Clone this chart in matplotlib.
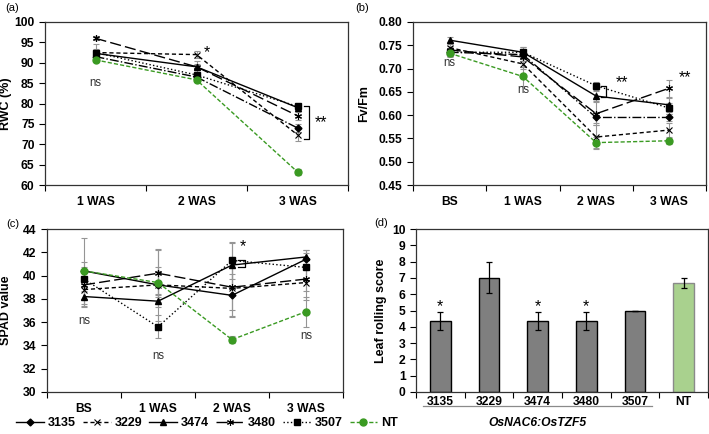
import matplotlib.pyplot as plt

plt.rcParams['font.family'] = ['Liberation Sans', 'DejaVu Sans']

# ---- data ----
lines = ['3135', '3229', '3474', '3480', '3507', 'NT']

rwc_cats = ['1 WAS', '2 WAS', '3 WAS']
rwc = {
    '3135': [91.5, 86.5, 74.0],
    '3229': [92.5, 92.0, 72.3],
    '3474': [92.3, 89.0, 79.0],
    '3480': [96.0, 89.0, 77.0],
    '3507': [92.5, 87.0, 79.3],
    'NT':   [90.7, 85.8, 63.2],
}
rwc_err = {
    '3135': [0.8, 0.8, 1.0],
    '3229': [0.8, 0.8, 1.5],
    '3474': [0.8, 1.5, 0.8],
    '3480': [0.5, 0.8, 1.0],
    '3507': [2.0, 1.5, 0.6],
    'NT':   [0.6, 0.6, 0.8],
}

fv_cats = ['BS', '1 WAS', '2 WAS', '3 WAS']
fv = {
    '3135': [0.735, 0.730, 0.595, 0.595],
    '3229': [0.745, 0.710, 0.553, 0.568],
    '3474': [0.761, 0.735, 0.641, 0.622],
    '3480': [0.740, 0.725, 0.603, 0.658],
    '3507': [0.735, 0.735, 0.663, 0.615],
    'NT':   [0.733, 0.683, 0.541, 0.545],
}
fv_err = {
    '3135': [0.008, 0.010, 0.012, 0.008],
    '3229': [0.008, 0.010, 0.025, 0.015],
    '3474': [0.006, 0.012, 0.010, 0.015],
    '3480': [0.008, 0.008, 0.025, 0.018],
    '3507': [0.010, 0.012, 0.008, 0.012],
    'NT':   [0.006, 0.020, 0.012, 0.006],
}

spad_cats = ['BS', '1 WAS', '2 WAS', '3 WAS']
spad = {
    '3135': [40.4, 39.2, 38.3, 41.4],
    '3229': [38.8, 39.2, 38.9, 39.4],
    '3474': [38.2, 37.8, 40.9, 41.6],
    '3480': [39.2, 40.2, 39.0, 39.7],
    '3507': [39.7, 35.6, 41.3, 40.7],
    'NT':   [40.4, 39.4, 34.5, 36.9],
}
spad_err = {
    '3135': [2.8, 3.1, 1.8, 0.8],
    '3229': [1.5, 1.5, 2.5, 1.5],
    '3474': [0.8, 0.5, 1.9, 0.6],
    '3480': [1.2, 2.0, 2.0, 1.0],
    '3507': [1.0, 1.0, 1.6, 1.2],
    'NT':   [0.8, 1.0, 0.3, 1.3],
}

roll_cats = ['3135', '3229', '3474', '3480', '3507', 'NT']
roll = [4.33, 7.0, 4.33, 4.33, 5.0, 6.67]
roll_err = [0.55, 0.95, 0.55, 0.55, 0.0, 0.3]

# ---- styles ----
green = '#3a9a22'
style = {
    '3135': dict(color='k', ls='-.', marker='D', ms=3.5, mew=1.0),
    '3229': dict(color='k', ls=(0, (3, 2)), marker='x', ms=4.5, mew=0.8),
    '3474': dict(color='k', ls='-', marker='^', ms=5, mew=1.0),
    '3480': dict(color='k', ls=(0, (8, 3)), marker=(6, 2, 0), ms=5, mew=0.8),
    '3507': dict(color='k', ls=':', marker='s', ms=5, mew=1.0),
    'NT':   dict(color=green, ls=(0, (3, 1.5)), marker='o', ms=5, mew=1.0),
}

W, H = 709, 434
fig = plt.figure(figsize=(W / 100, H / 100), dpi=100)
TICK = 8.7


def add_ax(x0, y0, x1, y1):
    return fig.add_axes([x0 / W, 1 - y1 / H, (x1 - x0) / W, (y1 - y0) / H])


def frame(ax, cats, pad=8):
    n = len(cats)
    ax.set_xlim(0, n)
    ax.set_xticks(range(n + 1))
    ax.set_xticklabels([])
    ax.set_xticks([i + 0.5 for i in range(n)], minor=True)
    ax.set_xticklabels(cats, minor=True, fontsize=TICK, fontweight='bold')
    ax.tick_params(axis='x', which='minor', length=0, pad=pad)
    ax.tick_params(axis='x', which='major', length=4, direction='out')
    ax.tick_params(axis='y', length=4, direction='out', labelsize=TICK)
    for lab in ax.get_yticklabels():
        lab.set_fontweight('bold')
    for s in ax.spines.values():
        s.set_linewidth(0.9)
        s.set_color('#333333')


def draw_lines(ax, data, err, cats, solid3135=False):
    xs = [i + 0.5 for i in range(len(cats))]
    handles = []
    for name in lines:
        st = dict(style[name])
        if solid3135 and name == '3135':
            st['ls'] = '-'
        ax.errorbar(xs, data[name], yerr=err[name], fmt='none', ecolor='#959595',
                    elinewidth=0.8, capsize=2.5, capthick=0.8, zorder=2)
        h, = ax.plot(xs, data[name], color=st['color'], ls=st['ls'], lw=1.0,
                     marker=st['marker'], ms=st['ms'], mfc=st['color'],
                     mec=st['color'], mew=st['mew'], zorder=3)
        handles.append(h)
    return handles


def bracket(ax, x, y0, y1, w):
    ax.plot([x, x + w, x + w, x], [y0, y0, y1, y1], color='k', lw=0.9)


def ylab(ax, text, xfrac):
    ax.set_ylabel(text, fontsize=9, fontweight='bold')
    ax.yaxis.set_label_coords(xfrac, 0.5)


# (a) RWC
ax = add_ax(45, 22, 348, 185)
draw_lines(ax, rwc, rwc_err, rwc_cats)
ax.set_ylim(60, 100)
ax.set_yticks(range(60, 101, 5))
frame(ax, rwc_cats)
ylab(ax, 'RWC (%)', -0.108)
ax.text(0.5, 85, 'ns', ha='center', va='center', fontsize=8.3, color='#333333')
ax.text(1.6, 92.4, '*', ha='center', va='center', fontsize=11.5)
bracket(ax, 2.56, 79.3, 71.3, 0.05)
ax.text(2.73, 75.2, '**', ha='center', va='center', fontsize=11.5)
fig.text(5 / W, 1 - 8 / H, '(a)', fontsize=8, va='center')

# (b) Fv/Fm
ax = add_ax(413, 22, 706, 185)
draw_lines(ax, fv, fv_err, fv_cats)
ax.set_ylim(0.45, 0.80)
ax.set_yticks([0.45, 0.50, 0.55, 0.60, 0.65, 0.70, 0.75, 0.80])
ax.set_yticklabels(['%.2f' % v for v in ax.get_yticks()])
frame(ax, fv_cats)
ylab(ax, 'Fv/Fm', -0.147)
ax.text(0.5, 0.712, 'ns', ha='center', va='center', fontsize=8.3, color='#333333')
ax.text(1.5, 0.654, 'ns', ha='center', va='center', fontsize=8.3, color='#333333')
bracket(ax, 2.57, 0.663, 0.638, 0.06)
ax.text(2.85, 0.669, '**', ha='center', va='center', fontsize=11.5)
ax.text(3.72, 0.680, '**', ha='center', va='center', fontsize=11.5)
fig.text(355 / W, 1 - 8 / H, '(b)', fontsize=8, va='center')

# (c) SPAD
ax = add_ax(47, 229, 343, 392)
handles = draw_lines(ax, spad, spad_err, spad_cats, solid3135=True)
ax.set_ylim(30, 44)
ax.set_yticks(range(30, 45, 2))
frame(ax, spad_cats)
ylab(ax, 'SPAD value', -0.118)
ax.text(0.5, 36.1, 'ns', ha='center', va='center', fontsize=8.3, color='#333333')
ax.text(1.5, 33.1, 'ns', ha='center', va='center', fontsize=8.3, color='#333333')
ax.text(3.5, 34.8, 'ns', ha='center', va='center', fontsize=8.3, color='#333333')
bracket(ax, 2.58, 41.3, 40.7, 0.09)
ax.text(2.65, 42.5, '*', ha='center', va='center', fontsize=11.5)
fig.text(6 / W, 1 - 224 / H, '(c)', fontsize=8, va='center')

fig.legend(handles, lines, loc='center', bbox_to_anchor=(207 / W, 1 - 423 / H),
           ncol=6, frameon=False, handlelength=2.2, handletextpad=0.3,
           columnspacing=0.6, prop={'weight': 'bold', 'size': 9})

# (d) leaf rolling
ax = add_ax(416, 229, 708, 392)
xs = [i + 0.5 for i in range(len(roll_cats))]
colors = ['#7f7f7f'] * 5 + ['#a9d18e']
edges = ['k'] * 5 + ['#8a8a8a']
ax.bar(xs, roll, width=0.42, color=colors, edgecolor=edges, linewidth=1.0, zorder=2)
ax.errorbar(xs, roll, yerr=roll_err, fmt='none', ecolor='k',
            elinewidth=0.9, capsize=2.5, capthick=0.9, zorder=3)
ax.set_ylim(0, 10)
ax.set_yticks(range(0, 11))
frame(ax, roll_cats, pad=3)
ylab(ax, 'Leaf rolling score', -0.099)
for i in [0, 2, 3]:
    ax.text(xs[i], roll[i] + roll_err[i] + 0.35, '*', ha='center', va='center', fontsize=11.5)
ax.plot([0.14, 4.85], [-0.86, -0.86], color='#8a8a8a', lw=0.9, clip_on=False)
ax.text(2.5, -1.9, 'OsNAC6:OsTZF5', ha='center', va='center', fontsize=8.7,
        fontweight='bold', style='italic')
fig.text(374 / W, 1 - 223 / H, '(d)', fontsize=8, va='center')

fig.savefig('out.png', dpi=100)
